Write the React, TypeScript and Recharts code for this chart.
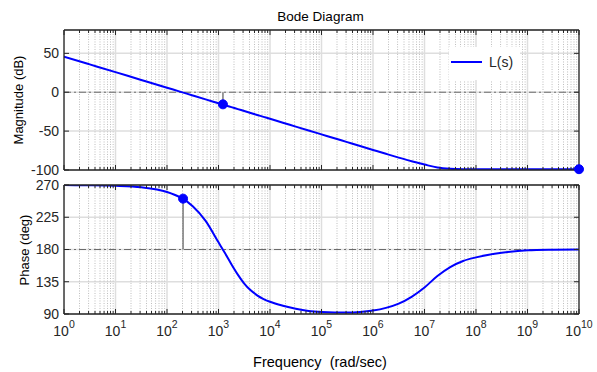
import React from 'react';
import {
  LineChart, Line, XAxis, YAxis, CartesianGrid,
  ReferenceLine, ReferenceDot, Legend
} from 'recharts';

// ── values ─────────────────────────────────────────────────
const freq = [
  1, 3.16, 10, 31.6, 100, 178, 316, 562, 1000, 1334, 1778, 2371,
  3162, 4217, 5623, 7499, 1e4, 1.78e4, 3.16e4, 5.62e4, 1e5,
  1.78e5, 3.16e5, 5.62e5, 1e6, 1.78e6, 3.16e6, 5.62e6, 1e7,
  1.78e7, 3.16e7, 5.62e7, 1e8, 1.78e8, 3.16e8, 1e9, 3.16e9, 1e10,
];
const magDb = [
  45.8, 35.8, 25.8, 15.8, 5.8, 0.8, -4.2, -9.2, -14.2, -16.7, -19.2, -21.7,
  -24.2, -26.7, -29.2, -31.7, -34.2, -39.2, -44.2, -49.2, -54.2,
  -59.2, -64.2, -69.2, -74.2, -79.2, -84.1, -88.8, -93.0,
  -96.8, -98.4, -98.9, -99.0, -99.0, -99.0, -99.0, -99.0, -99.0,
];
const phaseDeg = [
  269.9, 269.7, 269.0, 266.9, 260.3, 253.0, 240.5, 220.0, 190.0, 175.0, 159.5, 145.0,
  132.5, 123.0, 116.0, 110.8, 107.0, 101.5, 97.3, 94.3, 92.8,
  92.1, 92.0, 92.8, 94.8, 98.5, 104.5, 114.0, 127.0,
  143.0, 155.5, 164.0, 169.0, 172.8, 175.5, 178.8, 179.7, 180.0,
];

const decadeExponents = [0, 1, 2, 3, 4, 5, 6, 7, 8, 9, 10];
const decades = decadeExponents.map((e) => 10 ** e);
const minorSteps = [2, 3, 4, 5, 6, 7, 8, 9];
const minorTicks = decades.slice(0, -1).flatMap((d) => minorSteps.map((m) => m * d));

const magTicks = [-100, -50, 0, 50];
const magDomain = [-100, 80];
const phaseTicks = [90, 135, 180, 225, 270];
const phaseDomain = [90, 270];

// stability margin markers
const gainCross = { freq: 205, phase: 251 };
const phaseCross = { freq: 1220, mag: -15.6 };
const endMarker = { freq: 1e10, mag: -99 };

const rows = freq.map((f, i) => ({ freq: f, mag: magDb[i], phase: phaseDeg[i] }));

const AXIS = '#262626';
const BLUE = '#0000ff';
const FONT = '"Liberation Sans", Arial, sans-serif';
const THIN = 0.01; // axes must have a size > 0 to be drawn

const NoLabel = () => <g />;

const DecadeTick = (props: any) => {
  const { x, y, index } = props;
  return (
    <text x={x} y={y + 14} textAnchor="middle" fill={AXIS} fontSize={14}>
      10<tspan dy={-8} fontSize={10.5}>{decadeExponents[index]}</tspan>
    </text>
  );
};

// box with inward ticks on all four sides
const frameAxes = (yDomain: number[], yTicks: number[], labels: boolean) => [
  <XAxis key="xb" xAxisId="b" dataKey="freq" type="number" scale="log" domain={[1, 1e10]}
    allowDataOverflow ticks={decades} interval={0} height={THIN} tickSize={-5} tickMargin={13}
    tick={labels ? DecadeTick : NoLabel}
    axisLine={{ stroke: AXIS, strokeWidth: 1.3 }} tickLine={{ stroke: AXIS }} />,
  <XAxis key="xbm" xAxisId="bm" dataKey="freq" type="number" scale="log" domain={[1, 1e10]}
    allowDataOverflow ticks={minorTicks} interval={0} height={THIN} tickSize={-3}
    tick={NoLabel} axisLine={false} tickLine={{ stroke: AXIS }} />,
  <XAxis key="xt" xAxisId="t" dataKey="freq" orientation="top" type="number" scale="log" domain={[1, 1e10]}
    allowDataOverflow ticks={decades} interval={0} height={THIN} tickSize={-5}
    tick={NoLabel} axisLine={{ stroke: AXIS, strokeWidth: 1.3 }} tickLine={{ stroke: AXIS }} />,
  <XAxis key="xtm" xAxisId="tm" dataKey="freq" orientation="top" type="number" scale="log" domain={[1, 1e10]}
    allowDataOverflow ticks={minorTicks} interval={0} height={THIN} tickSize={-3}
    tick={NoLabel} axisLine={false} tickLine={{ stroke: AXIS }} />,
  <YAxis key="yl" yAxisId="l" type="number" domain={yDomain} allowDataOverflow ticks={yTicks}
    interval={0} width={THIN} tickSize={-5} tickMargin={10}
    tick={{ fill: AXIS, fontSize: 14 }}
    axisLine={{ stroke: AXIS, strokeWidth: 1.3 }} tickLine={{ stroke: AXIS }} />,
  <YAxis key="yr" yAxisId="r" orientation="right" type="number" domain={yDomain} allowDataOverflow
    ticks={yTicks} interval={0} width={THIN} tickSize={-5} tick={NoLabel}
    axisLine={{ stroke: AXIS, strokeWidth: 1.3 }} tickLine={{ stroke: AXIS }} />,
];

// dotted minor grid on every 2..9 × 10^k
const minorGrid = minorTicks.map((f) => (
  <ReferenceLine key={`m${f}`} xAxisId="b" yAxisId="l" x={f}
    stroke="#bdbdbd" strokeDasharray="1 1.5" strokeWidth={1} />
));

const majorGrid = (
  <CartesianGrid xAxisId="b" yAxisId="l" stroke="#dedede" strokeWidth={1.5} />
);

const legendContent = (props: any) => {
  const item = props.payload?.[0];
  if (!item) return null;
  return (
    <div style={{ position: 'relative', width: 71, height: 33, background: '#fff' }}>
      <svg width={71} height={33} style={{ position: 'absolute', left: 0, top: 0 }}>
        <line x1={2} x2={33} y1={15} y2={15} stroke={item.color} strokeWidth={2} />
        <text x={40} y={20} fontSize={14} fill={AXIS}>{item.value}</text>
      </svg>
    </div>
  );
};

const dashDot = { stroke: '#6b6b6b', strokeDasharray: '7 3 2 3', strokeWidth: 1 };

export default function App() {
  return (
    <div style={{ position: 'absolute', left: 0, top: 0, width: 597, height: 372, background: '#fff', fontFamily: FONT }}>
      <div style={{ position: 'absolute', left: 0, top: 0 }}>
        <LineChart width={597} height={180} data={rows} margin={{ top: 30, right: 18, bottom: 10, left: 64 }}>
          {majorGrid}
          {minorGrid}
          {frameAxes(magDomain, magTicks, false)}
          <ReferenceLine xAxisId="b" yAxisId="l" y={0} {...dashDot} />
          <ReferenceLine xAxisId="b" yAxisId="l" stroke="#7a7a7a" strokeWidth={1.5}
            segment={[{ x: phaseCross.freq, y: 0 }, { x: phaseCross.freq, y: phaseCross.mag }]} />
          <Line xAxisId="b" yAxisId="l" type="monotone" dataKey="mag" name="L(s)"
            stroke={BLUE} strokeWidth={2} dot={false} isAnimationActive={false} />
          <ReferenceDot xAxisId="b" yAxisId="l" x={phaseCross.freq} y={phaseCross.mag} r={4.5}
            fill={BLUE} stroke={BLUE} ifOverflow="visible" />
          <ReferenceDot xAxisId="b" yAxisId="l" x={endMarker.freq} y={endMarker.mag} r={4.5}
            fill={BLUE} stroke={BLUE} ifOverflow="visible" />
          <Legend layout="horizontal" verticalAlign="middle" align="center"
            wrapperStyle={{ left: 449, top: 47, width: 71, height: 33 }} content={legendContent} />
        </LineChart>
      </div>
      <div style={{ position: 'absolute', left: 0, top: 175 }}>
        <LineChart width={597} height={197} data={rows} margin={{ top: 10, right: 18, bottom: 58, left: 64 }}>
          {majorGrid}
          {minorGrid}
          {frameAxes(phaseDomain, phaseTicks, true)}
          <ReferenceLine xAxisId="b" yAxisId="l" y={180} {...dashDot} />
          <ReferenceLine xAxisId="b" yAxisId="l" stroke="#7a7a7a" strokeWidth={1.5}
            segment={[{ x: gainCross.freq, y: 180 }, { x: gainCross.freq, y: gainCross.phase }]} />
          <Line xAxisId="b" yAxisId="l" type="monotone" dataKey="phase" name="L(s)"
            stroke={BLUE} strokeWidth={2} dot={false} isAnimationActive={false} />
          <ReferenceDot xAxisId="b" yAxisId="l" x={gainCross.freq} y={gainCross.phase} r={4.5}
            fill={BLUE} stroke={BLUE} ifOverflow="visible" />
        </LineChart>
      </div>
      <svg width={597} height={372} style={{ position: 'absolute', left: 0, top: 0, pointerEvents: 'none' }}>
        <text x={320.5} y={21} textAnchor="middle" fontSize={13.5} fill="#000">Bode Diagram</text>
        <text x={320} y={367} textAnchor="middle" fontSize={14.5} fill="#000" style={{ whiteSpace: 'pre' }}>
          Frequency  (rad/sec)
        </text>
        <text transform="translate(23,100) rotate(-90)" textAnchor="middle" fontSize={13} fill="#000">
          Magnitude (dB)
        </text>
        <text transform="translate(29,250) rotate(-90)" textAnchor="middle" fontSize={13} fill="#000">
          Phase (deg)
        </text>
      </svg>
    </div>
  );
}
